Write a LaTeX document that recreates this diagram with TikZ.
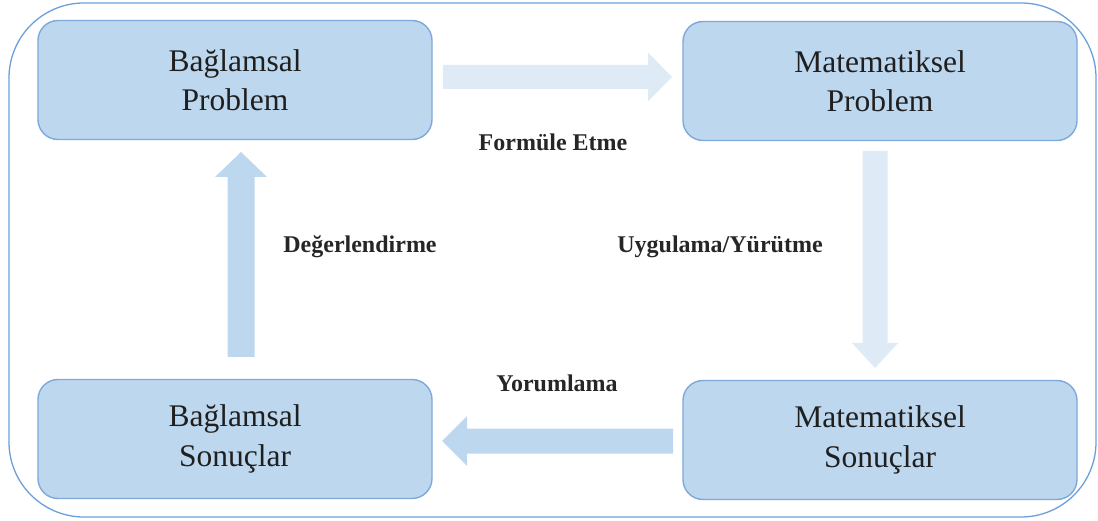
\documentclass[tikz,border=0pt]{standalone}
\usepackage{fontspec}
\setmainfont{Liberation Serif}
\usetikzlibrary{calc}

\definecolor{boxfill}{HTML}{BDD7EE}
\definecolor{boxline}{HTML}{7EA9DA}
\definecolor{frameline}{HTML}{6A9FD8}
\definecolor{arrowlight}{HTML}{DEEAF6}
\definecolor{arrowmid}{HTML}{BDD7EE}

\tikzset{
  stage/.style={draw=boxline, line width=1.4pt, fill=boxfill, rounded corners=20pt,
    minimum width=394pt, minimum height=119pt, align=center,
    font=\fontsize{31.5}{39.5}\selectfont, text=black!88},
  steplabel/.style={font=\fontsize{24}{28}\selectfont\bfseries, text=black!85},
  frame/.style={draw=frameline, line width=1.3pt, rounded corners=75pt}
}

% block arrow: #1 fill colour, #2 tail, #3 tip, #4 shaft half width,
% #5 head half width, #6 head length
\newcommand\blockarrow[6]{%
  \coordinate (hb) at ($(#3)!#6!(#2)$);
  \fill[#1]
    ($(#2)!#4!90:(#3)$) -- ($(hb)!#4!-90:(#2)$) -- ($(hb)!#5!-90:(#2)$) --
    (#3) -- ($(hb)!#5!90:(#2)$) -- ($(hb)!#4!90:(#2)$) --
    ($(#2)!#4!-90:(#3)$) -- cycle;
}

\begin{document}
\begin{tikzpicture}[x=1pt,y=-1pt]
\useasboundingbox (0,0) rectangle (1098,521);

\draw[frame] (9,3) rectangle (1096,517);

\node[stage] (bp) at (235,80)  {Bağlamsal\\Problem};
\node[stage] (mp) at (880,81)  {Matematiksel\\Problem};
\node[stage] (bs) at (235,439) {Bağlamsal\\Sonuçlar};
\node[stage] (ms) at (880,440) {Matematiksel\\Sonuçlar};

% arrow ends
\coordinate (a1t) at (443,77);  \coordinate (a1h) at (672,77);
\coordinate (a2t) at (875,151); \coordinate (a2h) at (875,368);
\coordinate (a3t) at (673,441); \coordinate (a3h) at (442,441);
\coordinate (a4t) at (241,357); \coordinate (a4h) at (241,152);

\blockarrow{arrowlight}{a1t}{a1h}{12pt}{24.5pt}{24pt}
\blockarrow{arrowlight}{a2t}{a2h}{12.5pt}{23pt}{25pt}
\blockarrow{arrowmid}{a3t}{a3h}{12.5pt}{25pt}{25pt}
\blockarrow{arrowmid}{a4t}{a4h}{13.5pt}{26pt}{25pt}

\node[steplabel] (l1) at (553,142) {Formüle Etme};
\node[steplabel] (l2) at (720,247) {Uygulama/Yürütme};
\node[steplabel] (l3) at (557,383) {Yorumlama};
\node[steplabel] (l4) at (360,247) {Değerlendirme};
\end{tikzpicture}
\end{document}
